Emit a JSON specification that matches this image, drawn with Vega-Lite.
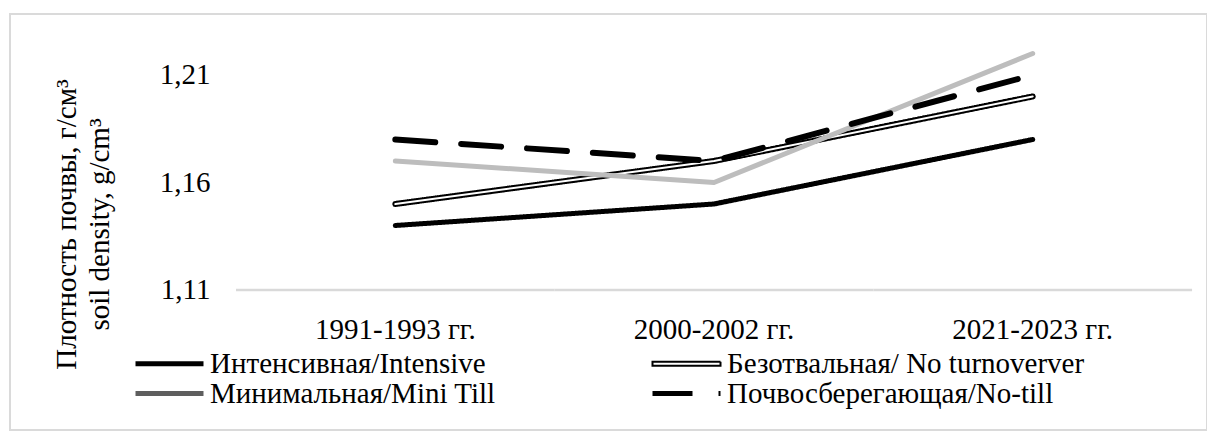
{
  "$schema": "https://vega.github.io/schema/vega-lite/v6.json",
  "width": 1197,
  "height": 416,
  "autosize": {"type": "none"},
  "padding": {"left": 10, "top": 14, "right": 0, "bottom": 1},
  "background": "white",
  "data": {
    "values": [
      {"period": "1991-1993 гг.", "series": "Интенсивная/Intensive", "density": 1.14},
      {"period": "2000-2002 гг.", "series": "Интенсивная/Intensive", "density": 1.15},
      {"period": "2021-2023 гг.", "series": "Интенсивная/Intensive", "density": 1.18},
      {"period": "1991-1993 гг.", "series": "Безотвальная/ No turnoverver", "density": 1.15},
      {"period": "2000-2002 гг.", "series": "Безотвальная/ No turnoverver", "density": 1.17},
      {"period": "2021-2023 гг.", "series": "Безотвальная/ No turnoverver", "density": 1.2},
      {"period": "1991-1993 гг.", "series": "Минимальная/Mini  Till", "density": 1.17},
      {"period": "2000-2002 гг.", "series": "Минимальная/Mini  Till", "density": 1.16},
      {"period": "2021-2023 гг.", "series": "Минимальная/Mini  Till", "density": 1.22},
      {"period": "1991-1993 гг.", "series": "Почвосберегающая/No-till", "density": 1.18},
      {"period": "2000-2002 гг.", "series": "Почвосберегающая/No-till", "density": 1.17},
      {"period": "2021-2023 гг.", "series": "Почвосберегающая/No-till", "density": 1.21}
    ]
  },
  "encoding": {
    "x": {
      "field": "period",
      "type": "nominal",
      "sort": null,
      "scale": {"type": "band", "paddingInner": 0, "paddingOuter": 0.378, "align": 0.938},
      "axis": {
        "title": null,
        "orient": "bottom",
        "offset": -140,
        "domain": false,
        "ticks": false,
        "tickSize": 0,
        "grid": false,
        "labelAngle": 0,
        "labelFont": "Liberation Serif",
        "labelFontSize": 29,
        "labelColor": "#000000",
        "labelBaseline": "alphabetic",
        "labelPadding": 48
      }
    },
    "y": {
      "field": "density",
      "type": "quantitative",
      "scale": {"domain": [1.04488, 1.23837], "zero": false, "nice": false},
      "axis": {
        "orient": "left",
        "offset": -226,
        "values": [1.11, 1.16, 1.21],
        "labelExpr": "replace(format(datum.value, '.2f'), '.', ',')",
        "domain": false,
        "ticks": false,
        "tickSize": 0,
        "grid": false,
        "labelFont": "Liberation Serif",
        "labelFontSize": 29,
        "labelColor": "#000000",
        "labelPadding": 26,
        "title": ["Плотность почвы, г/см³", "soil density,  g/cm³"],
        "titleFont": "Liberation Serif",
        "titleFontSize": 29,
        "titleFontWeight": "normal",
        "titleColor": "#000000",
        "titleAngle": -90,
        "titleAlign": "center",
        "titleBaseline": "alphabetic",
        "titleLineHeight": 33,
        "titleX": -161,
        "titleY": 210
      }
    }
  },
  "layer": [
    {
      "transform": [{"filter": "datum.series === 'Интенсивная/Intensive'"}],
      "mark": {"type": "tick", "orient": "horizontal", "thickness": 2.5, "bandSize": 319, "color": "#d9d9d9", "opacity": 1},
      "encoding": {"y": {"datum": 1.11}}
    },
    {
      "transform": [{"filter": "datum.series === 'Интенсивная/Intensive'"}],
      "mark": {"type": "line", "strokeWidth": 5, "strokeCap": "round", "strokeJoin": "round"},
      "encoding": {
        "color": {
          "field": "series",
          "type": "nominal",
          "scale": {"domain": ["Интенсивная/Intensive", "Безотвальная/ No turnoverver", "Минимальная/Mini  Till", "Почвосберегающая/No-till"], "range": ["#000000", "#000000", "#5e5e5e", "#000000"]},
          "legend": {
            "orient": "none",
            "encode": {
              "symbols": {
                "update": {
                  "shape": {"signal": "datum.value === 'Безотвальная/ No turnoverver' ? 'M-1,-0.06H1V0.06H-1Z' : 'stroke'"},
                  "fill": {"signal": "datum.value === 'Безотвальная/ No turnoverver' ? '#ffffff' : 'transparent'"},
                  "strokeWidth": {"signal": "datum.value === 'Безотвальная/ No turnoverver' ? 2 : 5"}
                }
              }
            }
          }
        },
        "strokeDash": {"field": "series", "type": "nominal", "scale": {"domain": ["Интенсивная/Intensive", "Безотвальная/ No turnoverver", "Минимальная/Mini  Till", "Почвосберегающая/No-till"], "range": [[1, 0], [1, 0], [1, 0], [40, 26]]}}
      }
    },
    {
      "transform": [{"filter": "datum.series === 'Безотвальная/ No turnoverver'"}],
      "mark": {"type": "line", "strokeWidth": 6, "strokeCap": "round", "strokeJoin": "round"},
      "encoding": {
        "color": {"field": "series", "type": "nominal"},
        "strokeDash": {"field": "series", "type": "nominal"}
      }
    },
    {
      "transform": [{"filter": "datum.series === 'Безотвальная/ No turnoverver'"}],
      "mark": {"type": "line", "strokeWidth": 2, "color": "#ffffff", "strokeCap": "round", "strokeJoin": "round"},
      "encoding": {}
    },
    {
      "transform": [{"filter": "datum.series === 'Минимальная/Mini  Till'"}],
      "mark": {"type": "line", "strokeWidth": 5, "strokeCap": "round", "strokeJoin": "round", "color": "#bdbdbd"},
      "encoding": {}
    },
    {
      "transform": [{"filter": "datum.series === 'Почвосберегающая/No-till'"}],
      "mark": {"type": "line", "strokeWidth": 6, "strokeCap": "round", "strokeJoin": "round"},
      "encoding": {
        "color": {"field": "series", "type": "nominal"},
        "strokeDash": {"field": "series", "type": "nominal"}
      }
    }
  ],
  "resolve": {"scale": {"color": "shared", "strokeDash": "shared"}},
  "config": {
    "view": {"stroke": "#dadada", "strokeWidth": 2},
    "font": "Liberation Serif",
    "legend": {
      "orient": "none",
      "legendX": 145,
      "legendY": 335,
      "title": null,
      "columns": 2,
      "columnPadding": 139,
      "rowPadding": -14,
      "padding": 0,
      "symbolType": "stroke",
      "symbolSize": 4624,
      "symbolStrokeWidth": 5,
      "labelFont": "Liberation Serif",
      "labelFontSize": 29,
      "labelColor": "#000000",
      "labelOffset": 26,
      "labelLimit": 600,
      "direction": "horizontal"
    }
  }
}
